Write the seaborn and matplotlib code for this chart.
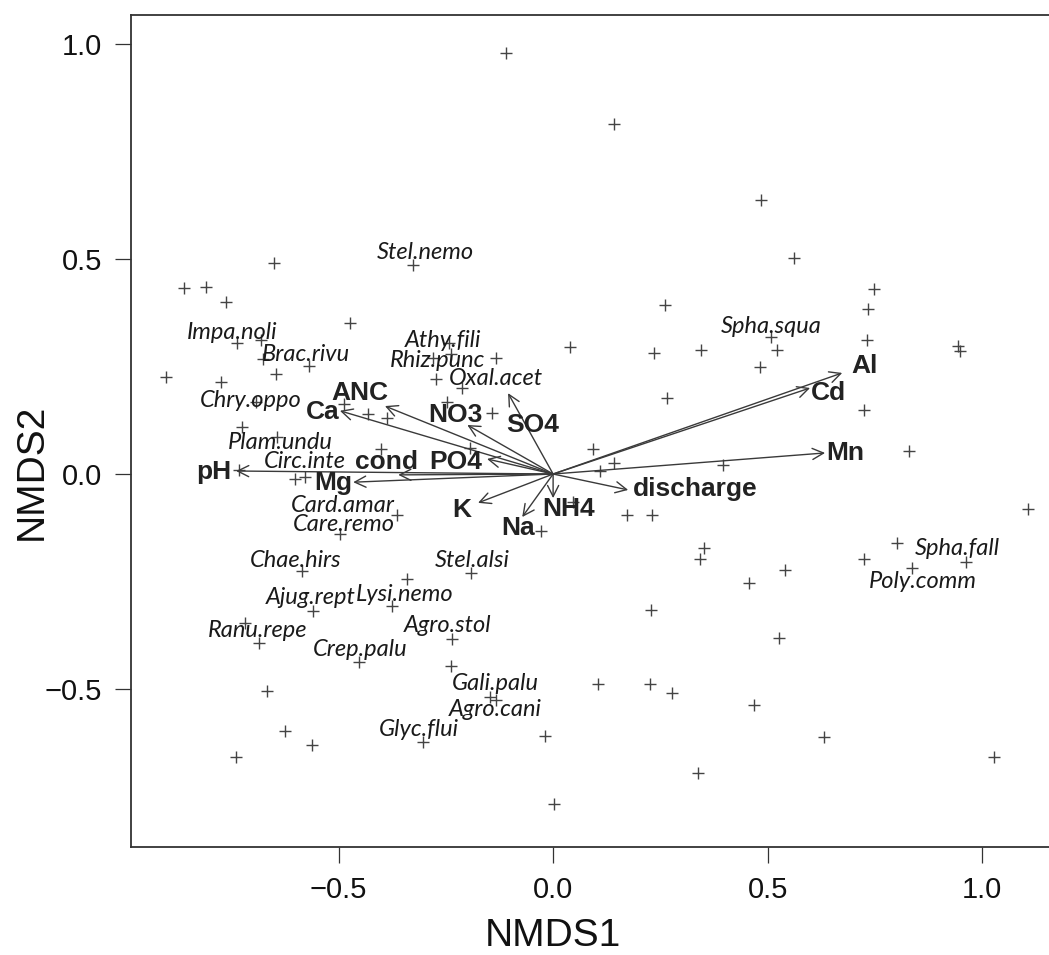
import matplotlib
matplotlib.use("Agg")
import matplotlib.pyplot as plt
import seaborn as sns
import pandas as pd

# NMDS site scores
site_x = [-0.110, 0.142, 0.485, 0.562, 0.748, -0.650, -0.326, -0.860, -0.809, -0.762,
          -0.473, -0.737, -0.681, -0.676, -0.569, -0.242, -0.238, -0.280, -0.133, 0.040,
          -0.902, -0.774, -0.646, -0.273, -0.212, -0.692, -0.487, -0.431, -0.387, -0.247,
          -0.142, -0.725, -0.643, -0.401, -0.193, -0.732, -0.601, -0.578, -0.364, -0.497,
          -0.585, -0.340, -0.191, -0.028, -0.559, -0.375, -0.718, -0.685, -0.235, -0.452,
          -0.238, -0.667, -0.147, -0.133, -0.625, -0.562, -0.739, -0.303, -0.019, 0.002,
          0.261, 0.734, 0.235, 0.345, 0.508, 0.522, 0.483, 0.732, 0.944, 0.949,
          0.266, 0.725, 0.830, 0.093, 0.142, 0.110, 0.396, 0.172, 0.231, 1.107,
          0.047, 0.352, 0.343, 0.457, 0.541, 0.725, 0.802, 0.837, 0.963, 0.228,
          0.527, 0.105, 0.226, 0.277, 0.468, 0.632, 1.028, 0.338]
site_y = [0.979, 0.814, 0.637, 0.502, 0.430, 0.491, 0.486, 0.433, 0.435, 0.400,
          0.351, 0.305, 0.312, 0.267, 0.251, 0.305, 0.279, 0.270, 0.270, 0.295,
          0.226, 0.214, 0.233, 0.221, 0.200, 0.167, 0.163, 0.140, 0.130, 0.167,
          0.142, 0.109, 0.086, 0.058, 0.060, 0.009, -0.012, -0.007, -0.095, -0.140,
          -0.226, -0.244, -0.230, -0.133, -0.319, -0.307, -0.347, -0.393, -0.384, -0.437,
          -0.447, -0.505, -0.519, -0.526, -0.598, -0.630, -0.658, -0.623, -0.609, -0.767,
          0.393, 0.384, 0.281, 0.288, 0.319, 0.288, 0.249, 0.312, 0.298, 0.286,
          0.177, 0.149, 0.053, 0.058, 0.026, 0.007, 0.021, -0.095, -0.095, -0.081,
          -0.065, -0.172, -0.198, -0.253, -0.223, -0.198, -0.160, -0.219, -0.205, -0.316,
          -0.381, -0.488, -0.488, -0.509, -0.537, -0.612, -0.658, -0.695]

# Species scores (labelled)
species = ["Stel.nemo", "Impa.noli", "Brac.rivu", "Athy.fili", "Rhiz.punc", "Oxal.acet",
           "Chry.oppo", "Plam.undu", "Circ.inte", "Card.amar", "Care.remo", "Chae.hirs",
           "Stel.alsi", "Ajug.rept", "Lysi.nemo", "Ranu.repe", "Agro.stol", "Crep.palu",
           "Gali.palu", "Agro.cani", "Glyc.flui", "Spha.squa", "Spha.fall", "Poly.comm"]
species_x = [-0.298, -0.748, -0.576, -0.256, -0.270, -0.133, -0.704, -0.636, -0.578, -0.490,
             -0.487, -0.601, -0.189, -0.566, -0.347, -0.688, -0.247, -0.450, -0.135, -0.135,
             -0.312, 0.508, 0.942, 0.862]
species_y = [0.514, 0.330, 0.277, 0.310, 0.263, 0.221, 0.170, 0.074, 0.030, -0.073,
             -0.117, -0.200, -0.202, -0.288, -0.281, -0.363, -0.353, -0.409, -0.488, -0.547,
             -0.595, 0.344, -0.174, -0.249]

# Fitted environmental vectors
env_vars = ["pH", "Ca", "ANC", "NO3", "SO4", "PO4", "cond", "Mg", "K", "Na", "NH4",
            "discharge", "Mn", "Al", "Cd"]
env_x = [-0.739, -0.497, -0.392, -0.200, -0.105, -0.154, -0.361, -0.466, -0.175, -0.072,
         0.000, 0.175, 0.634, 0.674, 0.599]
env_y = [0.007, 0.147, 0.158, 0.114, 0.188, 0.035, -0.002, -0.019, -0.067, -0.100,
         -0.056, -0.037, 0.049, 0.235, 0.200]
env_label_x = [-0.790, -0.536, -0.450, -0.228, -0.047, -0.228, -0.388, -0.513, -0.212, -0.082,
               0.035, 0.331, 0.681, 0.725, 0.641]
env_label_y = [0.005, 0.144, 0.188, 0.137, 0.114, 0.028, 0.028, -0.021, -0.084, -0.126,
               -0.081, -0.035, 0.049, 0.251, 0.188]

x_ticks = [-0.5, 0.0, 0.5, 1.0]
y_ticks = [-0.5, 0.0, 0.5, 1.0]

sns.set_style("ticks")
plt.rcParams["font.family"] = ["Liberation Sans", "DejaVu Sans"]

W, H = 1049, 955
fig = plt.figure(figsize=(W / 100, H / 100), dpi=100)
ax = fig.add_axes([131 / W, 108 / H, 918 / W, 832 / H])

sites = pd.DataFrame({"NMDS1": site_x, "NMDS2": site_y})
sns.scatterplot(data=sites, x="NMDS1", y="NMDS2", marker="+", s=70,
                color="#444444", linewidth=1.0, ax=ax, zorder=2)

for name, sx, sy in zip(species, species_x, species_y):
    ax.text(sx, sy, name, ha="center", va="center", fontsize=17,
            style="italic", family=["Lato", "DejaVu Sans"],
            color="#1a1a1a", zorder=3)

for name, ex, ey, lx, ly in zip(env_vars, env_x, env_y, env_label_x, env_label_y):
    ax.annotate("", xy=(ex, ey), xytext=(0, 0),
                arrowprops=dict(arrowstyle="->,head_length=0.4,head_width=0.2",
                                mutation_scale=20, color="#3a3a3a", lw=1.0,
                                shrinkA=0, shrinkB=0), zorder=4)
    ax.text(lx, ly, name, ha="center", va="center", fontsize=19,
            fontweight="bold", color="#222222", zorder=5)

ax.set_xlim(-0.984, 1.156)
ax.set_ylim(-0.867, 1.067)
ax.set_xticks(x_ticks)
ax.set_yticks(y_ticks)
ax.set_xticklabels([f"{t:.1f}".replace("-", "\u2212") for t in x_ticks])
ax.set_yticklabels([f"{t:.1f}".replace("-", "\u2212") for t in y_ticks])
ax.tick_params(axis="both", direction="out", length=11.5, width=0.9,
               color="#333333", labelsize=21, pad=9.5, labelcolor="#111111")

for side in ["left", "bottom", "top"]:
    ax.spines[side].set_color("#333333")
    ax.spines[side].set_linewidth(1.3)
ax.spines["right"].set_visible(False)

ax.set_xlabel("NMDS1", fontsize=28, color="#111111")
ax.set_ylabel("NMDS2", fontsize=28, color="#111111")
ax.xaxis.set_label_coords((553 - 131) / 918, -0.0853)
ax.yaxis.set_label_coords(-0.0882, 0.4507)

fig.savefig("out.png", dpi=100)
